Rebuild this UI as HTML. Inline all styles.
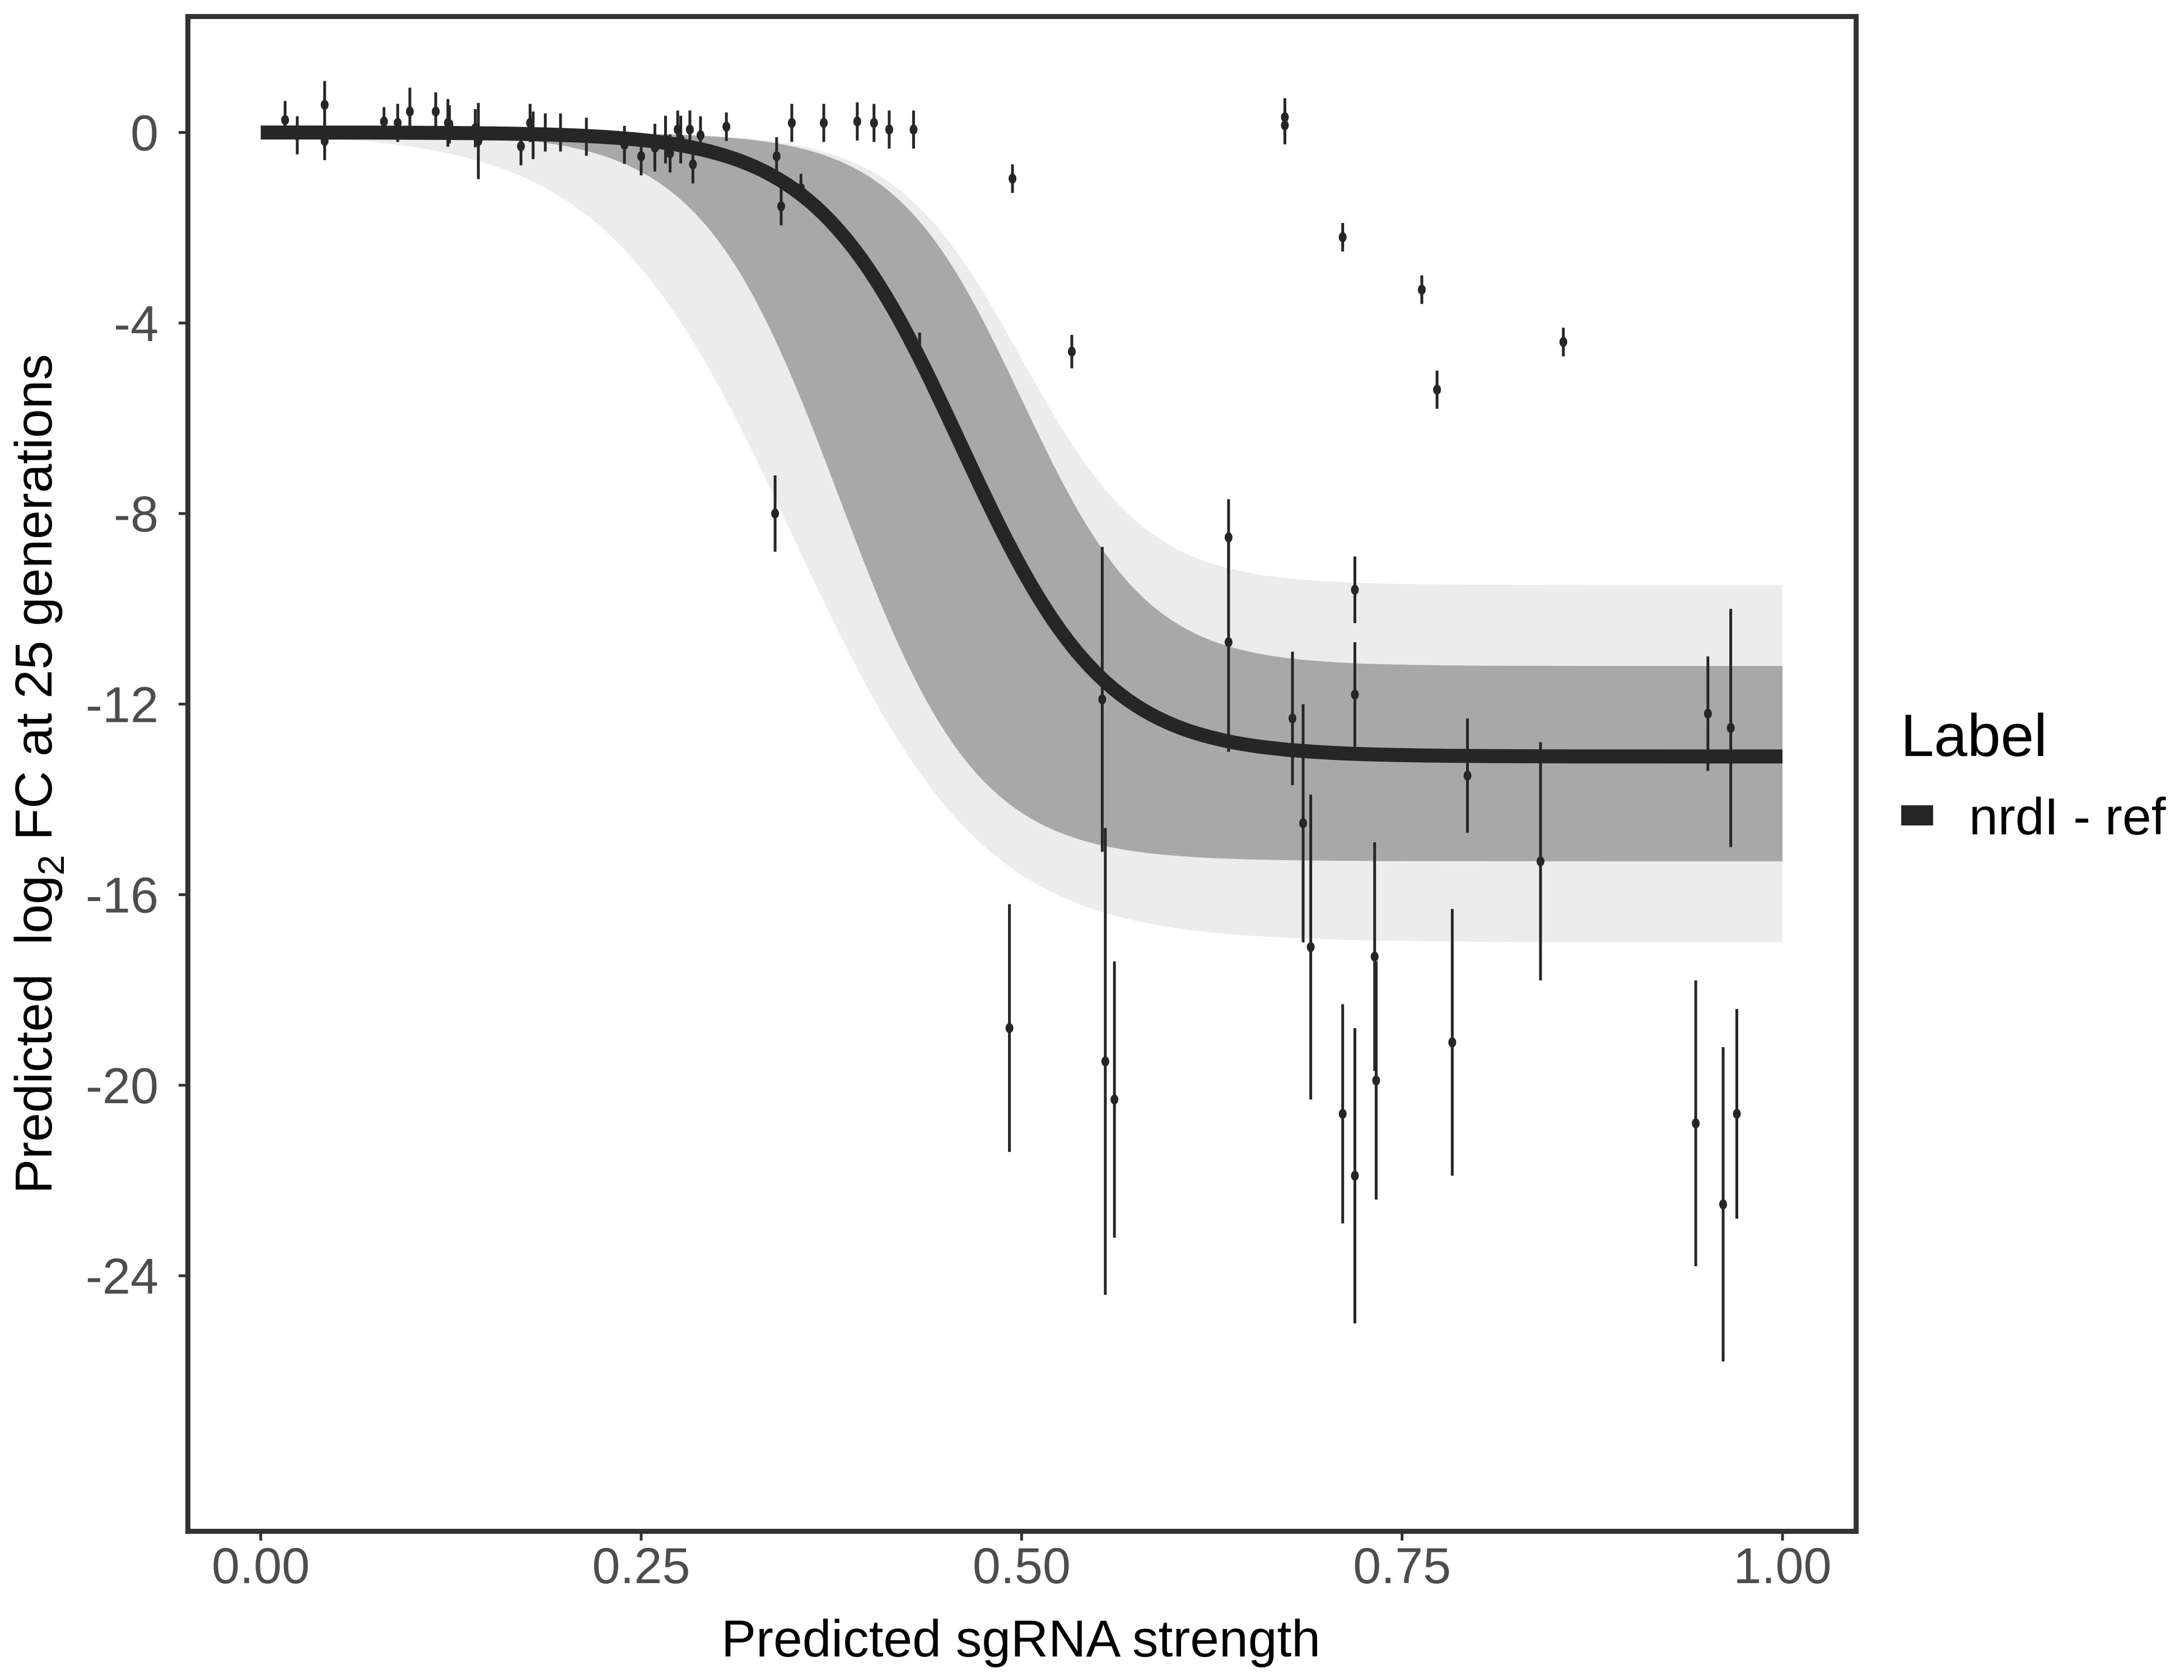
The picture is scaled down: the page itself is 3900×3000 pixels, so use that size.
<!DOCTYPE html>
<html><head><meta charset="utf-8"><style>
html,body{margin:0;padding:0;background:#fff;}
svg{display:block;font-family:"Liberation Sans",sans-serif;}
</style></head><body>
<svg id="chart" width="3900" height="3000" viewBox="0 0 3900 3000" xmlns="http://www.w3.org/2000/svg">
<rect x="0" y="0" width="3900" height="3000" fill="#fff"/>
<g id="bands"></g>
<g id="fit"></g>
<g id="pts"></g>
<rect x="335.5" y="29.5" width="2979" height="2705" fill="none" stroke="#333" stroke-width="9"/>
<g id="axes"></g>
<text x="1823" y="2958" font-size="93" text-anchor="middle" fill="#000">Predicted sgRNA strength</text>
<text transform="translate(92,1382) rotate(-90)" font-size="93" text-anchor="middle" fill="#000" xml:space="preserve">Predicted  log<tspan font-size="66" dy="22">2</tspan><tspan dy="-22"> FC at 25 generations</tspan></text>
<text x="3394" y="1350" font-size="107" fill="#000">Label</text>
<rect x="3395" y="1438" width="57" height="36" fill="#262626"/>
<text x="3516" y="1490" font-size="93" fill="#000">nrdI - ref</text>
</svg>
<script>
const xTicks = [0, 0.25, 0.5, 0.75, 1];
const xTickLabels = ["0.00", "0.25", "0.50", "0.75", "1.00"];
const yTicks = [0, -4, -8, -12, -16, -20, -24];
const yTickLabels = ["0", "-4", "-8", "-12", "-16", "-20", "-24"];
const ptX = [0.016,0.024,0.042,0.042,0.081,0.090,0.098,0.115,0.123,0.124,0.141,0.143,0.171,0.177,0.179,0.187,0.197,0.214,0.239,0.250,0.259,0.266,0.269,0.274,0.276,0.282,0.284,0.289,0.306,0.339,0.342,0.349,0.355,0.370,0.392,0.403,0.413,0.429,0.433,0.494,0.533,0.338,0.492,0.553,0.555,0.561,0.636,0.636,0.673,0.673,0.678,0.685,0.690,0.711,0.711,0.719,0.719,0.719,0.732,0.733,0.763,0.773,0.783,0.793,0.841,0.856,0.943,0.951,0.961,0.966,0.970];
const ptY = [0.26,-0.06,0.58,-0.18,0.23,0.2,0.44,0.44,0.2,0.17,0.09,-0.18,-0.29,0.2,-0.06,0.0,0.0,-0.09,-0.26,-0.5,-0.32,-0.15,-0.44,0.06,-0.15,0.06,-0.67,-0.06,0.12,-0.5,-1.55,0.2,-1.17,0.2,0.23,0.2,0.06,0.06,-4.6,-0.97,-4.6,-8.0,-18.8,-11.9,-19.5,-20.3,-8.5,-10.7,0.32,0.15,-12.3,-14.5,-17.1,-2.2,-20.6,-9.6,-11.8,-21.9,-17.3,-19.9,-3.3,-5.4,-19.1,-13.5,-15.3,-4.4,-20.8,-12.2,-22.5,-12.5,-20.6];
const ptErr = [0.4,0.4,0.5,0.4,0.3,0.4,0.5,0.4,0.5,0.4,0.4,0.8,0.4,0.4,0.5,0.4,0.4,0.4,0.4,0.4,0.5,0.5,0.4,0.4,0.5,0.4,0.4,0.4,0.3,0.4,0.4,0.4,0.3,0.4,0.4,0.4,0.4,0.4,0.4,0.3,0.35,0.8,2.6,3.2,4.9,2.9,0.8,2.3,0.4,0.4,1.4,2.5,3.2,0.3,2.3,0.7,1.1,3.1,2.4,2.5,0.3,0.4,2.8,1.2,2.5,0.3,3.0,1.2,3.3,2.5,2.2];
const fitParams = [-13.1, 0.46, 21];
const faintUpper = [-9.5, 0.50, 24];
const faintLower = [-17.0, 0.35, 16];
const coreUpper = [-11.2, 0.50, 24];
const coreLower = [-15.3, 0.38, 22];

const NS = "http://www.w3.org/2000/svg";
const X = v => 465.6 + v * 2717.4;
const Y = v => 236.5 - v * 85.07;
const logi = (p, x) => p[0] / (1 + Math.exp(-p[2] * (x - p[1])));
function mk(tag, attrs, parent) {
  const e = document.createElementNS(NS, tag);
  for (const k in attrs) e.setAttribute(k, attrs[k]);
  parent.appendChild(e);
  return e;
}
const xs = [];
for (let i = 0; i <= 200; i++) xs.push(i / 200);
function bandPath(up, lo) {
  let d = "";
  xs.forEach((x, i) => { d += (i ? "L" : "M") + X(x).toFixed(1) + "," + Y(Math.max(logi(up, x), logi(lo, x))).toFixed(1); });
  for (let i = xs.length - 1; i >= 0; i--) d += "L" + X(xs[i]).toFixed(1) + "," + Y(Math.min(logi(up, xs[i]), logi(lo, xs[i]))).toFixed(1);
  return d + "Z";
}
const bands = document.getElementById("bands");
const fb = mk("path", {d: bandPath(faintUpper, faintLower), fill: "#ececec"}, bands);


const cb = mk("path", {d: bandPath(coreUpper, coreLower), fill: "#a8a8a8"}, bands);



const fit = document.getElementById("fit");
let fd = "";
xs.forEach((x, i) => { fd += (i ? "L" : "M") + X(x).toFixed(1) + "," + Y(logi(fitParams, x)).toFixed(1); });
const fl = mk("path", {d: fd, fill: "none", stroke: "#262626", "stroke-width": 25}, fit);



const pts = document.getElementById("pts");
ptX.forEach((x, i) => {
  const g = mk("g", {}, pts);
  
  
  mk("line", {x1: X(x), x2: X(x), y1: Y(ptY[i] + ptErr[i]), y2: Y(ptY[i] - ptErr[i]), stroke: "#262626", "stroke-width": 5}, g);
  mk("ellipse", {cx: X(x), cy: Y(ptY[i]), rx: 7, ry: 9, fill: "#262626"}, g);
});

const axes = document.getElementById("axes");
xTicks.forEach((t, i) => {
  const tk = mk("line", {x1: X(t), x2: X(t), y1: 2739, y2: 2751, stroke: "#333", "stroke-width": 5}, axes);
  
  
  const lb = mk("text", {x: X(t), y: 2827, "font-size": 90, "text-anchor": "middle", fill: "#4d4d4d"}, axes);
  lb.textContent = xTickLabels[i];
  
  
});
yTicks.forEach((t, i) => {
  const tk = mk("line", {x1: 319, x2: 331, y1: Y(t), y2: Y(t), stroke: "#333", "stroke-width": 5}, axes);
  
  
  const lb = mk("text", {x: 283, y: Y(t) + 32, "font-size": 90, "text-anchor": "end", fill: "#4d4d4d"}, axes);
  lb.textContent = yTickLabels[i];
  
  
});
</script>
</body></html>
